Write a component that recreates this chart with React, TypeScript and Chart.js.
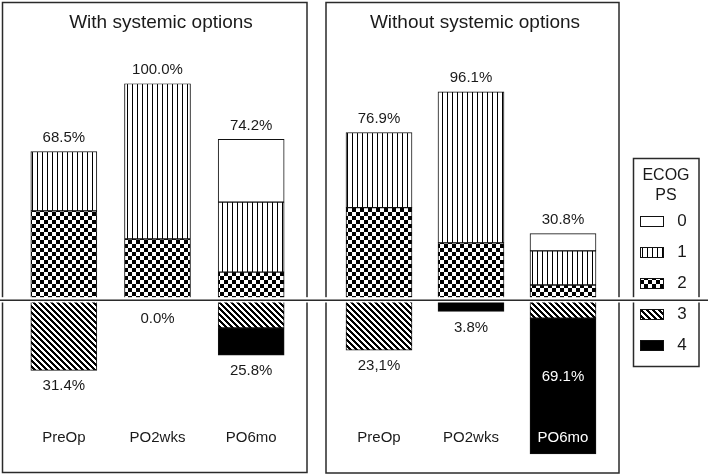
import React, { useEffect, useRef } from "react";
import { Chart, registerables } from "chart.js";

Chart.register(...registerables);

// ---------- data ----------
const categories = ["PreOp", "PO2wks", "PO6mo"];
const panelTitles = ["With systemic options", "Without systemic options"];
const legendTitle = ["ECOG", "PS"];
const psLevels = ["0", "1", "2", "3", "4"];

// With systemic options (% of patients; PS 0-2 above the axis, PS 3-4 below)
const withPS0 = [0, 0, 29.1];
const withPS1 = [27.5, 72.0, 32.4];
const withPS2 = [41.0, 28.0, 12.7];
const withPS3 = [32.8, 0, 13.2];
const withPS4 = [0, 0, 12.6];
const withTopLabels = ["68.5%", "100.0%", "74.2%"];
const withBottomLabels = ["31.4%", "0.0%", "25.8%"];

// Without systemic options
const withoutPS0 = [0, 0, 8.0];
const withoutPS1 = [34.8, 70.0, 15.8];
const withoutPS2 = [42.5, 26.2, 6.7];
const withoutPS3 = [23.5, 0, 8.6];
const withoutPS4 = [0, 5.5, 62.9];
const withoutTopLabels = ["76.9%", "96.1%", "30.8%"];
const withoutBottomLabels = ["23,1%", "3.8%", "69.1%"];

// ---------- styles ----------
const FONT = '"Liberation Sans", Arial, sans-serif';
const INK = "#1a1a1a";
const W = 709;
const H = 476;

function tile(w: number, h: number, draw: (g: CanvasRenderingContext2D) => void) {
  const c = document.createElement("canvas");
  c.width = w;
  c.height = h;
  const g = c.getContext("2d")!;
  g.fillStyle = "#fff";
  g.fillRect(0, 0, w, h);
  g.fillStyle = "#000";
  draw(g);
  return c;
}

function makeFills(ctx: CanvasRenderingContext2D): (string | CanvasPattern)[] {
  const vert = tile(5, 5, (g) => g.fillRect(2, 0, 1, 5));
  const check = tile(8, 8, (g) => {
    g.fillRect(0, 0, 4, 4);
    g.fillRect(4, 4, 4, 4);
  });
  const diag = tile(6, 6, (g) => {
    for (let y = 0; y < 6; y++)
      for (let x = 0; x < 6; x++) if ((((x - y) % 6) + 6) % 6 < 3) g.fillRect(x, y, 1, 1);
  });
  return [
    "#ffffff",
    ctx.createPattern(vert, "repeat")!,
    ctx.createPattern(check, "repeat")!,
    ctx.createPattern(diag, "repeat")!,
    "#000000",
  ];
}

function buildDatasets(series: number[][], fills: (string | CanvasPattern)[]) {
  // stacking order: PS2, PS1, PS0 upward from the axis; PS3, PS4 downward
  const order = [2, 1, 0, 3, 4];
  return order.map((ps) => ({
    label: "PS " + psLevels[ps],
    data: series[ps].map((v) => (v === 0 ? null : ps >= 3 ? -v : v)),
    backgroundColor: fills[ps],
    borderColor: "#111",
    borderWidth: 1,
    borderSkipped: false as const,
    stack: "s",
  }));
}

function panelPlugin(title: string, titleX: number, topLabels: string[], bottomLabels: string[]) {
  return {
    id: "panelText",
    afterDatasetsDraw(chart: any) {
      const ctx: CanvasRenderingContext2D = chart.ctx;
      const xs = chart.scales.x;
      const ys = chart.scales.y;
      ctx.save();
      ctx.textAlign = "center";
      ctx.textBaseline = "middle";
      ctx.fillStyle = INK;
      ctx.font = "19px " + FONT;
      ctx.fillText(title, titleX, 23);
      ctx.font = "15px " + FONT;
      categories.forEach((cat, i) => {
        const cx = xs.getPixelForValue(i);
        let pos = 0;
        let neg = 0;
        chart.data.datasets.forEach((ds: any) => {
          const v = ds.data[i];
          if (v == null) return;
          if (v > 0) pos += v;
          else neg += v;
        });
        const zero = ys.getPixelForValue(0);
        const yTop = ys.getPixelForValue(pos);
        ctx.fillStyle = INK;
        ctx.fillText(topLabels[i], cx, yTop - 13.5);
        const yBot = Math.max(ys.getPixelForValue(neg), zero + 3);
        if (yBot > 420) {
          ctx.fillStyle = "#fff";
          ctx.fillText(bottomLabels[i], cx, ys.getPixelForValue(neg / 2));
        } else {
          ctx.fillStyle = INK;
          ctx.fillText(bottomLabels[i], cx, yBot + 16);
        }
        ctx.fillStyle = yBot > 438 ? "#fff" : INK;
        ctx.fillText(cat, cx, 438);
      });
      ctx.restore();
    },
  };
}

function framePlugin(fills: () => (string | CanvasPattern)[]) {
  return {
    id: "frames",
    afterDraw(chart: any) {
      const ctx: CanvasRenderingContext2D = chart.ctx;
      const ys = chart.scales.y;
      const zero = ys.getPixelForValue(0);
      const f = fills();
      ctx.save();
      ctx.strokeStyle = "#2a2a2a";
      ctx.lineWidth = 1.5;
      ctx.strokeRect(2.5, 2.5, 304.5, 470);
      ctx.strokeRect(326, 2.5, 293, 470.5);
      ctx.strokeRect(633.5, 158.5, 65.5, 208);
      // legend
      ctx.fillStyle = INK;
      ctx.textAlign = "center";
      ctx.textBaseline = "middle";
      ctx.font = "16px " + FONT;
      ctx.fillText(legendTitle[0], 666, 176);
      ctx.fillText(legendTitle[1], 666, 196);
      ctx.font = "17px " + FONT;
      ctx.lineWidth = 1;
      ctx.strokeStyle = "#111";
      psLevels.forEach((lv, i) => {
        const cy = 221.5 + 31 * i;
        ctx.fillStyle = f[i] as any;
        ctx.fillRect(640, cy - 5.5, 24, 11);
        ctx.strokeRect(640.5, cy - 5, 23, 10);
        ctx.fillStyle = INK;
        ctx.fillText(lv, 682, cy);
      });
      // white gap around the axis, then the axis line
      ctx.fillStyle = "#fff";
      ctx.fillRect(0, zero - 2.3, W, 5.3);
      ctx.fillStyle = "#2a2a2a";
      ctx.fillRect(0, zero, 708, 1.5);
      ctx.restore();
    },
  };
}

function baseOptions(padding: { left: number; right: number; top: number; bottom: number }) {
  return {
    responsive: false,
    animation: false as const,
    devicePixelRatio: 1,
    layout: { padding },
    plugins: { legend: { display: false }, tooltip: { enabled: false } },
    datasets: { bar: { categoryPercentage: 1, barThickness: 66 } },
    scales: {
      x: { display: false, stacked: true, grid: { display: false } },
      y: { display: false, stacked: true, min: -72, max: 100 },
    },
  };
}

export default function App() {
  const leftRef = useRef<HTMLCanvasElement>(null);
  const rightRef = useRef<HTMLCanvasElement>(null);

  useEffect(() => {
    const lctx = leftRef.current!.getContext("2d")!;
    const rctx = rightRef.current!.getContext("2d")!;
    const lf = makeFills(lctx);
    const rf = makeFills(rctx);
    const padTop = 83.5;
    const padBottom = H - 455;

    const left = new Chart(lctx, {
      type: "bar",
      data: {
        labels: categories,
        datasets: buildDatasets([withPS0, withPS1, withPS2, withPS3, withPS4], lf) as any,
      },
      options: baseOptions({ left: 17, right: W - 298, top: padTop, bottom: padBottom }) as any,
      plugins: [panelPlugin(panelTitles[0], 161, withTopLabels, withBottomLabels)],
    });

    const right = new Chart(rctx, {
      type: "bar",
      data: {
        labels: categories,
        datasets: buildDatasets([withoutPS0, withoutPS1, withoutPS2, withoutPS3, withoutPS4], rf) as any,
      },
      options: baseOptions({ left: 333, right: W - 609, top: padTop, bottom: padBottom }) as any,
      plugins: [
        panelPlugin(panelTitles[1], 475, withoutTopLabels, withoutBottomLabels),
        framePlugin(() => rf),
      ],
    });

    return () => {
      left.destroy();
      right.destroy();
    };
  }, []);

  const cs: React.CSSProperties = { position: "absolute", left: 0, top: 0, width: W, height: H };
  return (
    <div style={{ position: "fixed", left: 0, top: 0, width: W, height: H, background: "#fff" }}>
      <canvas ref={leftRef} width={W} height={H} style={cs} />
      <canvas ref={rightRef} width={W} height={H} style={cs} />
    </div>
  );
}
